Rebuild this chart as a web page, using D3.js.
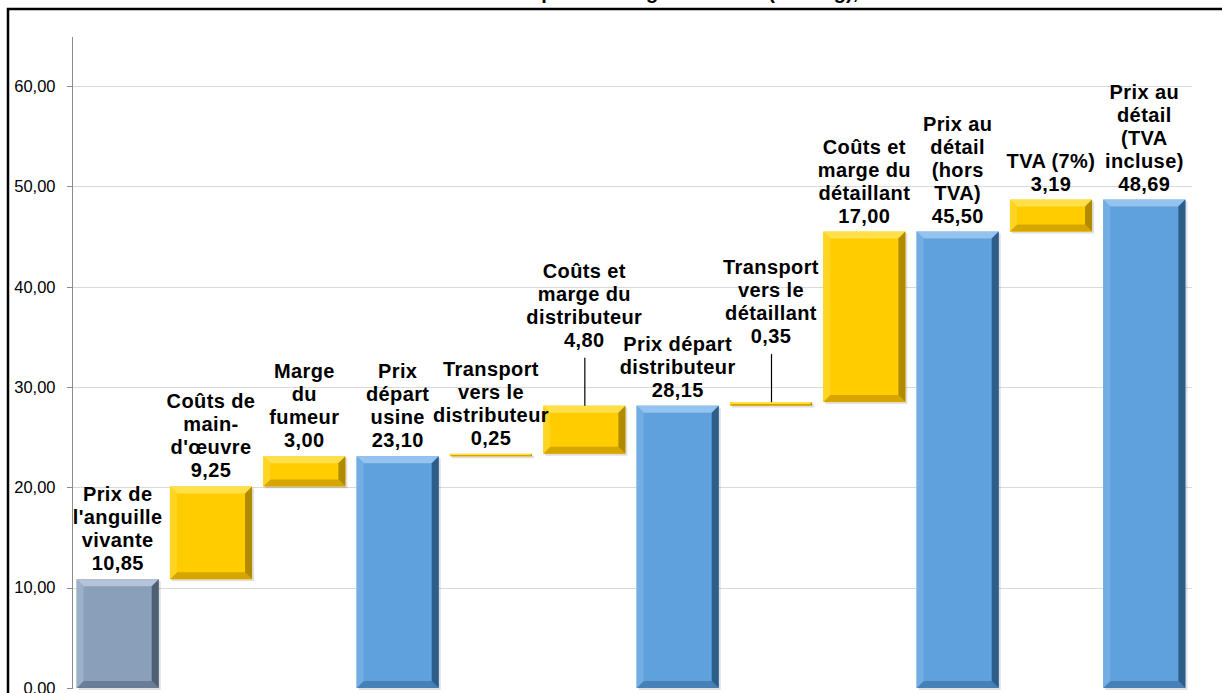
<!DOCTYPE html>
<meta charset="utf-8">
<head>
	<style type="text/css">
		body { margin: 0; background: #fff; }
		svg { display: block; font-family: "Liberation Sans", Arial, sans-serif; }
		.axis path, .axis line { fill: none; stroke: #8c8c8c; shape-rendering: crispEdges; }
		.axis text { font-size: 16.5px; fill: #000; }
		.grid line { stroke: #d9d9d9; shape-rendering: crispEdges; }
		.label { font-weight: bold; font-size: 20px; fill: #000; letter-spacing: 0.4px; }
	</style>
	<title>Prix de l'anguille fumée</title>
</head>
<script src="https://cdn.jsdelivr.net/npm/d3@7"></script>
<svg width="1222" height="693" id="svg1"></svg>

<script>
	// étapes de la chaîne de valeur (libellés sur plusieurs lignes)
	const labels = [
		["Prix de", "l'anguille", "vivante"],
		["Coûts de", "main-", "d'œuvre"],
		["Marge", "du", "fumeur"],
		["Prix", "départ", "usine"],
		["Transport", "vers le", "distributeur"],
		["Coûts et", "marge du", "distributeur"],
		["Prix départ", "distributeur"],
		["Transport", "vers le", "détaillant"],
		["Coûts et", "marge du", "détaillant"],
		["Prix au", "détail", "(hors", "TVA)"],
		["TVA (7%)"],
		["Prix au", "détail", "(TVA", "incluse)"]
	];
	const values = [10.85, 9.25, 3.00, 23.10, 0.25, 4.80, 28.15, 0.35, 17.00, 45.50, 3.19, 48.69];
	const kinds = ["base", "step", "step", "total", "step", "step", "total", "step", "step", "total", "step", "total"];
	const yTicks = [0, 10, 20, 30, 40, 50, 60];
	const title = "Structure du prix de l'anguille fumée (EUR/kg), 2011";

	const svg1 = d3.select('#svg1');
	const fmt = v => d3.format(".2f")(v).replace(".", ",");

	// waterfall : début / fin de chaque barre
	let run = 0;
	const data = values.map((v, i) => {
		let lo, hi;
		if (kinds[i] === "step") { lo = run; hi = run + v; run = hi; }
		else { lo = 0; hi = v; run = v; }
		return { i: i, lines: labels[i], value: v, kind: kinds[i], lo: lo, hi: hi };
	});

	const xScale = d3.scaleBand()
		.domain(d3.range(values.length))
		.range([71, 1191])
		.paddingInner(0.12)
		.paddingOuter(0.06);

	const yScale = d3.scaleLinear()
		.domain([0, 65])
		.range([688, 36]);

	const palette = {
		base:  { main: '#8a9fba', top: '#b3c3d8', left: '#9cb0c9', right: '#4f6075', bottom: '#6a7d96' },
		step:  { main: '#ffcc00', top: '#ffe04a', left: '#ffd422', right: '#b08a00', bottom: '#d6a500' },
		total: { main: '#5ea1dc', top: '#93c3ee', left: '#72aee3', right: '#2f5d8a', bottom: '#4780b6' }
	};

	// cadre extérieur
	svg1.append('rect')
		.attr('x', 8).attr('y', 9)
		.attr('width', 1230).attr('height', 700)
		.attr('fill', '#fff')
		.attr('stroke', '#000')
		.attr('stroke-width', 2.5);

	// titre (coupé en haut de l'image)
	svg1.append('text')
		.attr('x', 662).attr('y', -1)
		.attr('text-anchor', 'middle')
		.attr('font-weight', 'bold')
		.attr('font-size', '20px')
		.text(title);

	// grille
	svg1.append('g').attr('class', 'grid')
		.selectAll('line').data(yTicks.slice(1)).enter().append('line')
		.attr('x1', 71).attr('x2', 1192)
		.attr('y1', d => Math.round(yScale(d)) + 0.5)
		.attr('y2', d => Math.round(yScale(d)) + 0.5);

	const yAxis = d3.axisLeft(yScale)
		.tickValues(yTicks)
		.tickFormat(fmt)
		.tickSize(5)
		.tickSizeOuter(0)
		.tickPadding(11);

	svg1.append('g').attr('class', 'axis')
		.attr('transform', 'translate(71.5,0)')
		.call(yAxis);

	// barres avec effet biseau
	const bevel = (g, d) => {
		const c = palette[d.kind];
		const x = xScale(d.i), w = xScale.bandwidth();
		const y = yScale(d.hi), h = yScale(d.lo) - yScale(d.hi);
		const b = Math.min(7, h / 2, w / 2);
		const pt = p => p.map(q => q.join(',')).join(' ');
		g.append('rect').attr('x', x + 2).attr('y', y + 2).attr('width', w).attr('height', h)
			.attr('fill', '#000').attr('opacity', 0.12);
		g.append('rect').attr('x', x).attr('y', y).attr('width', w).attr('height', h).attr('fill', c.main);
		g.append('polygon').attr('fill', c.top)
			.attr('points', pt([[x, y], [x + w, y], [x + w - b, y + b], [x + b, y + b]]));
		g.append('polygon').attr('fill', c.bottom)
			.attr('points', pt([[x, y + h], [x + w, y + h], [x + w - b, y + h - b], [x + b, y + h - b]]));
		g.append('polygon').attr('fill', c.left)
			.attr('points', pt([[x, y], [x + b, y + b], [x + b, y + h - b], [x, y + h]]));
		g.append('polygon').attr('fill', c.right)
			.attr('points', pt([[x + w, y], [x + w - b, y + b], [x + w - b, y + h - b], [x + w, y + h]]));
	};

	const bars = svg1.append('g');
	data.forEach(d => bevel(bars.append('g'), d));

	// étiquettes : ligne par ligne, valeur en dernier
	const lift = { 5: 50, 7: 50 };  // étiquettes décalées avec trait de rappel
	const lineH = 23;

	const lab = svg1.append('g');
	data.forEach(d => {
		const cx = xScale(d.i) + xScale.bandwidth() / 2;
		const top = yScale(d.hi);
		const up = lift[d.i] || 0;
		const base = top - 9 - up;
		const lines = d.lines.concat([fmt(d.value)]);
		const t = lab.append('text').attr('class', 'label').attr('text-anchor', 'middle');
		lines.forEach((s, k) => {
			t.append('tspan')
				.attr('x', cx)
				.attr('y', base - (lines.length - 1 - k) * lineH)
				.text(s);
		});
		if (up) {
			lab.append('line')
				.attr('x1', cx + 0.5).attr('x2', cx + 0.5)
				.attr('y1', top - 48).attr('y2', top)
				.attr('stroke', '#000').attr('stroke-width', 1.2);
		}
	});
</script>
